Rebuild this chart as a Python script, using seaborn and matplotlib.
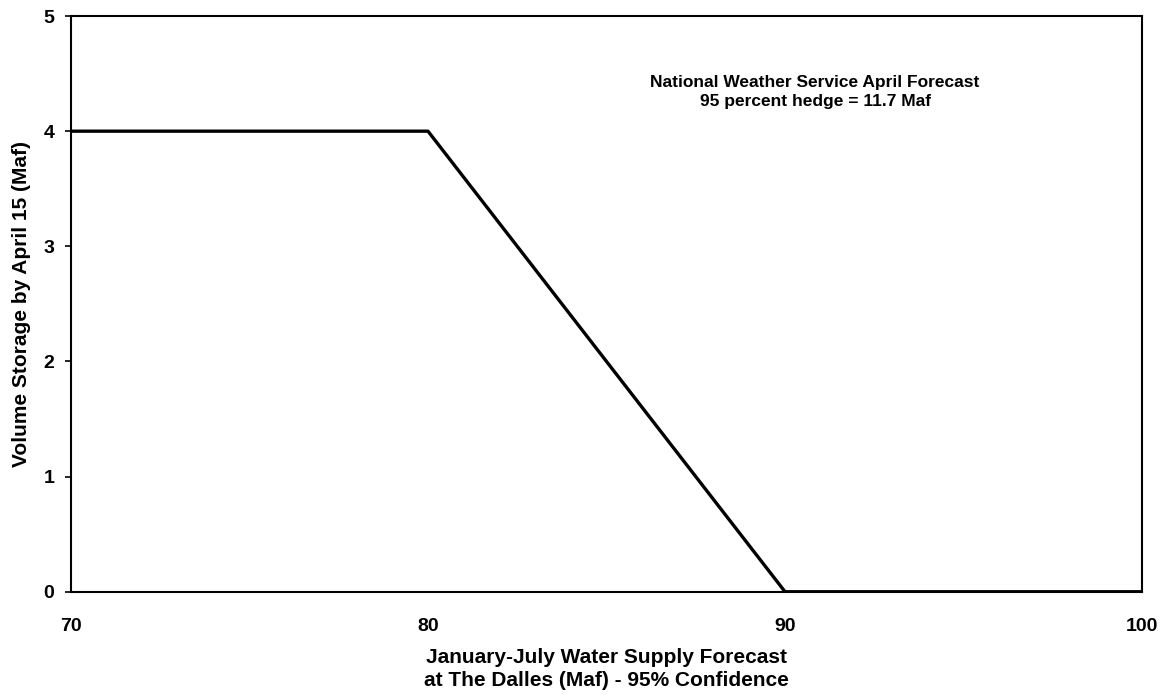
import pandas as pd
import matplotlib
matplotlib.use("Agg")
import matplotlib.pyplot as plt
import seaborn as sns

# Forecast (Maf) vs. required storage by April 15 (Maf)
forecast = [70, 80, 90, 100]
storage = [4, 4, 0, 0]

x_ticks = [70, 80, 90, 100]
y_ticks = [0, 1, 2, 3, 4, 5]

df = pd.DataFrame({"forecast": forecast, "storage": storage})

sns.set_style("white")
plt.rcParams['font.family'] = ['Liberation Sans', 'DejaVu Sans']
plt.rcParams['font.weight'] = 'bold'
plt.rcParams['text.color'] = 'black'
plt.rcParams['axes.labelcolor'] = 'black'
plt.rcParams['xtick.color'] = 'black'
plt.rcParams['ytick.color'] = 'black'

fig = plt.figure(figsize=(11.63, 6.97), dpi=100)
ax = fig.add_axes([0.061, 0.151, 0.921, 0.826])

sns.lineplot(data=df, x="forecast", y="storage", color="black", linewidth=2.4, ax=ax)

ax.set_xlim(70, 100)
ax.set_ylim(0, 5)
ax.set_xticks(x_ticks)
ax.set_yticks(y_ticks)
ax.set_xticklabels([str(t) for t in x_ticks], fontsize=14, fontweight='bold')
ax.set_yticklabels([str(t) for t in y_ticks], fontsize=14, fontweight='bold')
ax.tick_params(axis='x', length=0, pad=19)
ax.tick_params(axis='y', length=4, width=1.2, direction='out', pad=8, left=True)

for s in ax.spines.values():
    s.set_color('black')
    s.set_linewidth(1.5)

ax.set_xlabel("January-July Water Supply Forecast\nat The Dalles (Maf) - 95% Confidence",
              fontsize=15, fontweight='bold', labelpad=9, linespacing=1.3)
ax.set_ylabel("Volume Storage by April 15 (Maf)", fontsize=15, fontweight='bold', labelpad=9)

ax.text(90.84, 4.34, "National Weather Service April Forecast\n95 percent hedge = 11.7 Maf",
        ha='center', va='center', fontsize=12.5, fontweight='bold', linespacing=1.3)

fig.savefig("out.png", dpi=100)
